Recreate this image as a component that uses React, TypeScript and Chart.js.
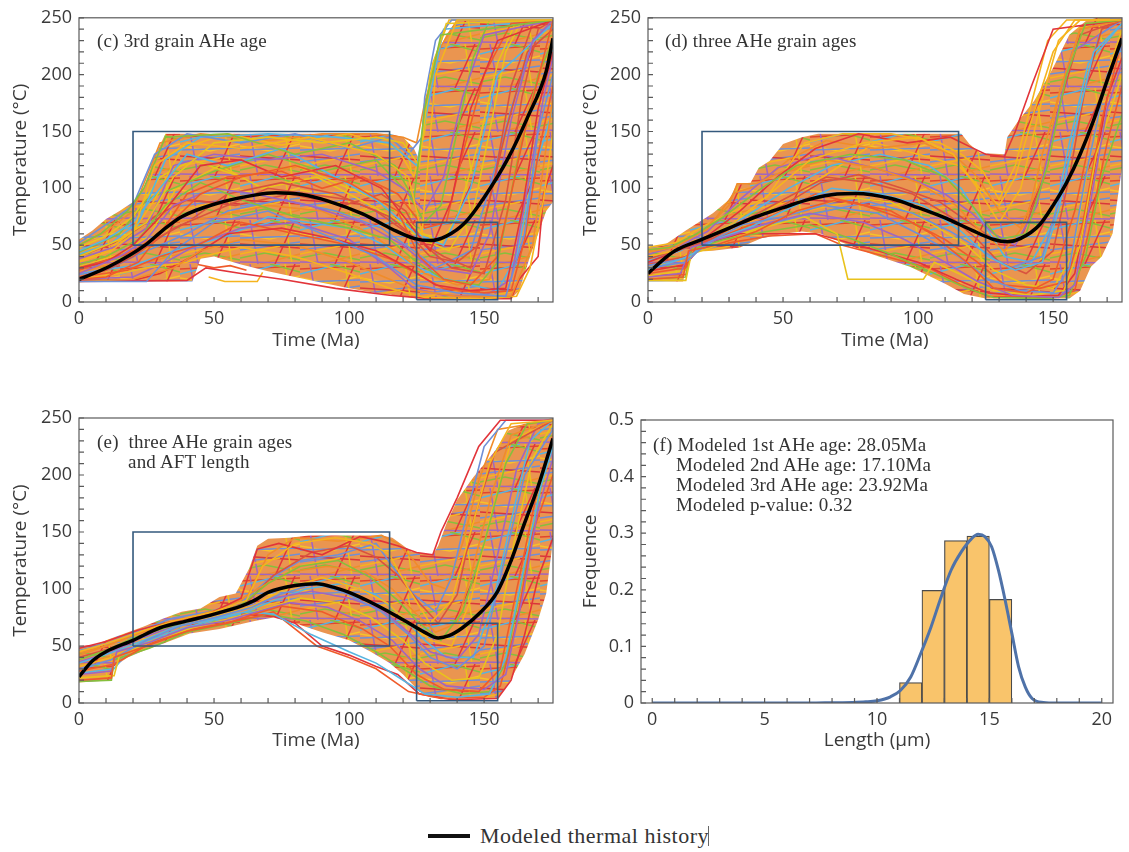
import React, { useEffect, useRef } from "react";
import { Chart, registerables } from "chart.js";
Chart.register(...registerables);

type Pt = [number, number];

// ---------------- shared constraint boxes ----------------
const BOX_A_TIME = [20, 115];
const BOX_A_TEMP = [50, 150];
const BOX_B_TIME = [125, 155];
const BOX_B_TEMP = [2, 70];

const TIME_MAX = 175.5;
const TEMP_MAX = 250;

// ---------------- panel (c) ----------------
const C_MODEL: Pt[] = [[0, 20], [11, 31], [24.5, 50], [31, 63], [38, 75], [50, 86], [65, 94], [73, 96], [82.5, 94.5], [92, 89], [105, 77.5], [116, 64], [124, 56], [130, 54], [136, 58], [143, 70], [150, 92], [159, 127], [166, 162], [173, 203], [175.5, 232]];
const C_UPPER: Pt[] = [[0, 55], [5, 63], [10, 73], [15, 80], [20, 88], [24, 100], [28, 128], [32, 148], [115, 148], [120, 145], [124, 135], [126, 125], [127, 150], [128, 175], [132, 215], [136, 235], [140, 248], [175.5, 248]];
const C_LOWER: Pt[] = [[0, 18], [42, 18], [45, 38], [50, 40], [60, 33], [70, 27], [80, 22], [90, 17], [100, 12], [110, 8], [120, 5], [125, 3], [160, 3], [163, 10], [167, 40], [170, 60], [173, 80], [175.5, 88]];
const C_PATHS: Pt[][] = [
  [[0, 20], [10, 22], [22, 35], [30, 60], [45, 95], [60, 110], [80, 120], [100, 105], [118, 80], [126, 40], [135, 20], [145, 15], [155, 40], [165, 150], [175.5, 248]],
  [[0, 35], [12, 45], [20, 60], [28, 120], [40, 140], [60, 135], [85, 145], [110, 130], [122, 110], [127, 60], [132, 200], [140, 248], [175.5, 248]],
  [[0, 18], [25, 18], [35, 45], [50, 70], [70, 80], [90, 60], [110, 40], [125, 15], [140, 8], [158, 5], [165, 60], [170, 150], [175.5, 200]],
  [[0, 50], [8, 60], [18, 80], [24, 100], [32, 145], [55, 148], [80, 130], [100, 140], [117, 120], [124, 90], [128, 170], [134, 235], [175.5, 248]],
  [[0, 25], [15, 40], [25, 55], [35, 85], [50, 100], [65, 95], [85, 85], [105, 70], [120, 50], [130, 30], [145, 25], [152, 60], [160, 160], [168, 230], [175.5, 248]],
  [[0, 30], [10, 35], [20, 50], [30, 75], [45, 120], [60, 125], [75, 110], [95, 120], [112, 100], [122, 70], [130, 45], [138, 90], [145, 170], [155, 230], [175.5, 248]],
  [[0, 45], [10, 55], [20, 70], [30, 100], [40, 130], [55, 120], [75, 135], [95, 110], [110, 90], [125, 60], [135, 50], [145, 100], [155, 200], [175.5, 245]],
  [[0, 18], [20, 20], [35, 30], [45, 45], [60, 55], [80, 50], [100, 35], [115, 20], [125, 10], [140, 5], [160, 5], [168, 50], [172, 120], [175.5, 180]],
  [[0, 40], [15, 55], [25, 70], [35, 110], [50, 140], [70, 145], [90, 140], [110, 145], [120, 140], [126, 120], [130, 200], [136, 245], [175.5, 248]],
  [[0, 22], [10, 28], [20, 40], [35, 65], [50, 80], [70, 100], [85, 95], [100, 90], [115, 75], [125, 55], [135, 40], [145, 30], [150, 70], [158, 150], [166, 220], [175.5, 240]],
  [[0, 28], [20, 45], [30, 60], [40, 95], [55, 110], [75, 115], [90, 100], [105, 110], [118, 95], [128, 65], [136, 70], [142, 130], [150, 200], [160, 245], [175.5, 248]],
  [[0, 20], [15, 25], [25, 30], [40, 35], [46, 40], [60, 48], [80, 40], [100, 25], [115, 12], [128, 4], [150, 3], [162, 5], [167, 30], [172, 90], [175.5, 150]],
  [[0, 52], [10, 68], [20, 85], [28, 130], [40, 148], [60, 140], [80, 148], [100, 135], [115, 145], [122, 130], [127, 145], [128, 180], [132, 230], [138, 248], [175.5, 248]],
  [[0, 33], [10, 40], [22, 55], [32, 85], [45, 105], [60, 90], [80, 75], [100, 65], [115, 55], [125, 35], [135, 20], [148, 15], [155, 35], [162, 120], [170, 200], [175.5, 230]],
  [[0, 38], [15, 50], [25, 65], [35, 120], [50, 130], [70, 125], [90, 130], [110, 115], [120, 100], [128, 80], [135, 110], [142, 180], [150, 235], [175.5, 248]],
  [[0, 19], [20, 19], [30, 25], [42, 40], [55, 60], [75, 65], [95, 55], [110, 45], [122, 30], [132, 15], [145, 10], [158, 12], [164, 80], [170, 170], [175.5, 220]],
  [[0, 42], [12, 52], [22, 70], [32, 125], [45, 145], [70, 148], [95, 145], [115, 140], [125, 120], [129, 170], [135, 240], [175.5, 248]],
  [[0, 26], [14, 35], [24, 50], [34, 70], [50, 75], [70, 85], [90, 80], [108, 60], [120, 40], [128, 25], [140, 15], [152, 20], [158, 70], [165, 160], [175.5, 235]],
  [[0, 48], [10, 58], [20, 75], [30, 110], [42, 125], [60, 110], [80, 120], [100, 100], [115, 85], [126, 62], [134, 52], [140, 75], [148, 140], [155, 210], [162, 248], [175.5, 248]],
  [[0, 30], [18, 42], [28, 55], [40, 70], [55, 95], [75, 105], [95, 95], [110, 80], [122, 60], [130, 40], [140, 35], [148, 50], [154, 110], [160, 190], [168, 245], [175.5, 248]],
  [[0, 22], [18, 28], [30, 40], [44, 50], [60, 70], [80, 60], [100, 50], [115, 38], [125, 25], [135, 12], [150, 8], [160, 10], [165, 55], [170, 130], [175.5, 190]],
  [[0, 36], [10, 45], [20, 62], [28, 90], [38, 135], [55, 148], [75, 138], [100, 148], [118, 135], [124, 110], [128, 150], [131, 210], [137, 248], [175.5, 248]],
  [[0, 24], [12, 30], [22, 42], [30, 50], [40, 60], [55, 80], [75, 90], [95, 80], [112, 65], [124, 45], [132, 30], [145, 45], [152, 100], [160, 170], [168, 230], [175.5, 245]],
  [[0, 44], [15, 60], [25, 90], [35, 100], [50, 115], [70, 130], [90, 115], [110, 125], [122, 95], [128, 70], [134, 85], [140, 150], [146, 215], [152, 248], [175.5, 248]],
  [[0, 20], [20, 22], [32, 35], [45, 52], [60, 65], [80, 70], [100, 55], [115, 30], [124, 12], [135, 6], [150, 5], [160, 20], [166, 100], [172, 180], [175.5, 215]],
  [[0, 18], [40, 19], [47, 30], [60, 25], [75, 20], [95, 12], [115, 6], [130, 3], [160, 3], [163, 20], [170, 40], [172, 95], [175.5, 120]],
  [[0, 25], [20, 32], [35, 45], [55, 58], [70, 75], [85, 70], [100, 65], [113, 50], [122, 35], [133, 22], [145, 15], [155, 10], [162, 40], [168, 110], [175.5, 170]],
  [[0, 50], [10, 62], [20, 80], [30, 140], [45, 148], [70, 142], [90, 148], [110, 148], [120, 145], [125, 140], [128, 175], [134, 225], [140, 248], [175.5, 248]],
  [[0, 31], [15, 42], [26, 58], [36, 100], [52, 120], [68, 100], [88, 110], [104, 90], [118, 72], [127, 55], [137, 45], [146, 80], [152, 150], [158, 220], [164, 248], [175.5, 248]],
  [[0, 40], [16, 55], [28, 75], [40, 90], [58, 85], [78, 95], [98, 85], [112, 95], [121, 80], [128, 50], [138, 30], [150, 25], [158, 90], [164, 180], [170, 240], [175.5, 248]],
  [[44, 33], [50, 30], [56, 32], [62, 28]],
  [[48, 22], [54, 18], [66, 18], [68, 26]],
];

// ---------------- panel (d) ----------------
const D_MODEL: Pt[] = [[0, 25], [5, 36], [10, 45], [20, 55], [30, 65], [40, 75], [50, 83], [60, 90.5], [70, 95], [77, 95.5], [90, 91], [100, 83], [110, 74], [120, 63], [128, 55], [133, 53], [138, 56], [145, 68], [150, 85], [155, 105], [160, 130], [165, 160], [170, 195], [175.5, 232]];
const D_UPPER: Pt[] = [[0, 48], [6, 50], [14, 63], [24, 78], [30, 90], [33, 104], [38, 105], [41, 118], [45, 124], [50, 139], [57, 145], [63, 148], [116, 148], [119, 139], [123, 131], [132, 130], [133, 145], [137, 159], [143, 177], [150, 206], [156, 235], [162, 247], [166, 250], [175.5, 250]];
const D_LOWER: Pt[] = [[0, 18], [13, 18], [14.5, 34], [16, 44], [24, 45], [34, 48], [42, 56], [50, 60], [57, 62], [64, 60], [70, 54], [83, 42], [97, 31], [110, 16], [117, 7], [125, 3], [156, 3], [160, 10], [164, 31], [168, 40], [172, 60], [175.5, 118]];
const D_PATHS: Pt[][] = [
  [[0, 20], [13, 22], [15, 45], [25, 50], [40, 62], [55, 80], [70, 90], [90, 80], [105, 60], [118, 35], [128, 12], [140, 8], [150, 20], [158, 80], [166, 170], [175.5, 235]],
  [[0, 40], [10, 45], [20, 55], [32, 70], [45, 95], [60, 125], [80, 140], [100, 145], [113, 130], [122, 100], [130, 70], [138, 100], [145, 170], [152, 230], [160, 248], [175.5, 248]],
  [[0, 30], [14, 35], [22, 52], [35, 68], [50, 75], [65, 85], [85, 78], [100, 60], [115, 40], [126, 20], [138, 10], [150, 8], [156, 30], [162, 110], [170, 200], [175.5, 225]],
  [[0, 46], [8, 48], [18, 60], [28, 75], [42, 100], [55, 120], [75, 130], [95, 125], [110, 110], [120, 85], [130, 55], [140, 60], [148, 120], [155, 200], [162, 245], [175.5, 248]],
  [[0, 22], [12, 25], [16, 48], [30, 58], [45, 70], [60, 78], [80, 70], [95, 55], [110, 35], [122, 18], [135, 6], [152, 4], [158, 15], [164, 90], [170, 170], [175.5, 210]],
  [[0, 35], [10, 44], [22, 58], [34, 80], [48, 110], [62, 135], [78, 148], [96, 140], [112, 145], [118, 138], [125, 130], [132, 128], [136, 150], [142, 190], [150, 240], [175.5, 248]],
  [[0, 28], [15, 40], [25, 55], [38, 66], [52, 82], [68, 100], [86, 95], [102, 85], [116, 62], [126, 40], [136, 28], [146, 35], [152, 80], [158, 150], [165, 220], [175.5, 245]],
  [[0, 44], [10, 48], [20, 62], [30, 85], [33, 104], [40, 104], [50, 115], [66, 125], [84, 118], [100, 105], [114, 85], [124, 60], [132, 45], [140, 70], [146, 130], [153, 190], [160, 240], [175.5, 248]],
  [[0, 19], [14, 19], [16, 42], [28, 52], [42, 65], [58, 75], [70, 60], [74, 20], [102, 20], [106, 35], [115, 25], [128, 10], [142, 6], [154, 10], [160, 50], [166, 130], [175.5, 200]],
  [[0, 38], [12, 46], [24, 56], [36, 72], [50, 90], [66, 110], [82, 105], [98, 95], [112, 75], [122, 55], [130, 35], [140, 25], [150, 45], [156, 110], [162, 190], [168, 240], [175.5, 248]],
  [[0, 25], [14, 30], [18, 50], [32, 62], [46, 76], [62, 95], [80, 85], [96, 72], [110, 55], [122, 35], [132, 15], [145, 12], [155, 18], [161, 70], [168, 160], [175.5, 230]],
  [[0, 48], [10, 52], [20, 66], [30, 78], [44, 92], [58, 140], [72, 148], [90, 148], [108, 140], [116, 130], [124, 115], [130, 90], [136, 120], [142, 175], [148, 230], [155, 248], [175.5, 248]],
  [[0, 32], [13, 38], [24, 54], [36, 64], [50, 72], [66, 80], [82, 88], [98, 78], [112, 62], [124, 45], [134, 30], [146, 40], [153, 95], [160, 170], [167, 235], [175.5, 248]],
  [[0, 20], [14, 22], [16, 46], [28, 55], [44, 62], [60, 68], [76, 55], [92, 40], [106, 25], [118, 12], [128, 4], [148, 3], [156, 6], [162, 40], [168, 110], [175.5, 165]],
  [[0, 42], [12, 50], [22, 62], [34, 90], [48, 118], [64, 130], [80, 120], [96, 110], [110, 95], [120, 78], [128, 60], [136, 50], [144, 85], [150, 150], [157, 220], [175.5, 248]],
  [[0, 27], [14, 33], [20, 50], [34, 60], [45, 60], [62, 60], [70, 55], [85, 45], [100, 35], [114, 20], [126, 8], [140, 5], [152, 6], [158, 25], [164, 100], [170, 180], [175.5, 215]],
  [[0, 36], [12, 45], [24, 60], [36, 75], [52, 100], [68, 120], [86, 130], [104, 120], [116, 100], [124, 70], [132, 40], [142, 35], [150, 70], [156, 140], [163, 210], [175.5, 245]],
  [[0, 45], [10, 50], [22, 64], [32, 96], [40, 102], [52, 125], [66, 142], [84, 135], [102, 140], [114, 128], [122, 110], [130, 80], [138, 65], [146, 110], [152, 180], [160, 240], [175.5, 248]],
  [[0, 23], [14, 28], [17, 47], [30, 56], [44, 68], [58, 82], [74, 92], [90, 88], [104, 70], [118, 50], [128, 28], [140, 15], [150, 12], [157, 40], [163, 120], [170, 200], [175.5, 240]],
  [[0, 33], [14, 40], [24, 58], [36, 70], [50, 85], [64, 105], [78, 112], [94, 100], [108, 88], [120, 68], [130, 52], [138, 55], [145, 100], [152, 170], [160, 235], [175.5, 248]],
  [[0, 24], [14, 24], [16, 46], [30, 52], [45, 58], [62, 60], [72, 50], [88, 40], [104, 30], [116, 15], [126, 5], [150, 4], [158, 10], [163, 60], [170, 140], [175.5, 190]],
  [[0, 30], [12, 38], [22, 56], [36, 68], [52, 92], [68, 115], [84, 140], [100, 130], [115, 120], [123, 100], [130, 85], [136, 110], [142, 160], [150, 220], [158, 248], [175.5, 248]],
];

// ---------------- panel (e) ----------------
const E_MODEL: Pt[] = [[0, 23], [5, 37], [10, 45], [20, 55], [30, 66], [40, 72], [50, 78], [60, 85], [65, 90], [70, 97], [80, 103], [88, 104.5], [95, 101], [100, 97], [110, 86], [120, 73], [128, 62], [133, 57], [137, 59], [142, 66], [148, 78], [155, 98], [160, 125], [165, 158], [170, 190], [175.5, 232]];
const E_UPPER: Pt[] = [[0, 50], [6, 51], [11, 56], [24, 67], [31, 74], [38, 80], [45, 83], [52, 93], [58, 96], [63, 118], [66, 138], [70, 144], [78, 145], [85, 147], [112, 147], [116, 145], [119, 140], [123, 133], [131, 130], [133, 138], [136, 157], [140, 178], [146, 198], [154, 221], [159, 239], [165, 245], [175.5, 250]];
const E_LOWER: Pt[] = [[0, 18], [12, 20], [13, 32], [18, 40], [25, 47], [31, 52], [41, 61], [52, 65], [65, 72], [72, 75], [80, 70], [90, 62], [100, 55], [108, 45], [115, 35], [120, 25], [126, 10], [130, 5], [155, 4], [159, 17], [165, 43], [170, 73], [173, 96], [175.5, 143]];
const E_PATHS: Pt[][] = [
  [[0, 20], [12, 22], [13, 40], [25, 50], [40, 63], [55, 70], [65, 78], [75, 85], [90, 80], [105, 65], [115, 50], [125, 25], [135, 12], [148, 10], [156, 30], [163, 110], [170, 190], [175.5, 235]],
  [[0, 45], [10, 52], [22, 62], [35, 72], [50, 80], [62, 90], [68, 120], [80, 140], [95, 145], [108, 140], [115, 130], [122, 100], [130, 70], [138, 90], [145, 150], [152, 210], [160, 245], [175.5, 248]],
  [[0, 30], [12, 38], [25, 55], [38, 68], [52, 76], [64, 84], [74, 95], [88, 105], [100, 95], [112, 80], [122, 60], [130, 40], [140, 30], [150, 50], [157, 120], [165, 200], [175.5, 240]],
  [[0, 38], [10, 46], [20, 57], [32, 66], [46, 75], [60, 86], [70, 105], [82, 120], [96, 125], [108, 110], [118, 90], [126, 70], [134, 55], [142, 80], [150, 140], [158, 210], [166, 245], [175.5, 248]],
  [[0, 25], [12, 28], [14, 45], [26, 53], [40, 66], [54, 72], [66, 80], [78, 88], [92, 84], [104, 72], [116, 55], [126, 30], [136, 15], [150, 12], [158, 25], [164, 90], [170, 170], [175.5, 215]],
  [[0, 48], [10, 54], [22, 64], [34, 71], [48, 78], [60, 92], [66, 135], [74, 140], [90, 130], [104, 146], [112, 142], [118, 138], [125, 132], [131, 130], [134, 150], [140, 180], [148, 225], [156, 248], [175.5, 248]],
  [[0, 35], [12, 44], [24, 55], [36, 67], [50, 74], [62, 80], [72, 78], [86, 60], [100, 45], [110, 35], [120, 20], [128, 8], [140, 5], [152, 8], [158, 40], [164, 110], [171, 190], [175.5, 225]],
  [[0, 42], [10, 50], [20, 60], [32, 70], [44, 77], [56, 85], [66, 100], [78, 115], [92, 120], [106, 115], [116, 100], [124, 80], [132, 62], [140, 70], [146, 120], [153, 185], [160, 235], [175.5, 248]],
  [[0, 22], [13, 24], [15, 42], [28, 55], [42, 66], [56, 74], [68, 82], [82, 92], [96, 88], [108, 75], [120, 55], [128, 35], [138, 20], [148, 22], [155, 60], [161, 140], [168, 215], [175.5, 245]],
  [[0, 40], [12, 48], [24, 60], [36, 70], [50, 78], [62, 88], [72, 112], [86, 132], [100, 138], [110, 128], [118, 112], [126, 88], [133, 70], [140, 95], [146, 160], [154, 220], [175.5, 248]],
  [[0, 28], [13, 34], [26, 52], [40, 64], [54, 70], [66, 76], [72, 80], [88, 50], [100, 40], [110, 30], [122, 10], [134, 4], [150, 5], [156, 15], [162, 70], [168, 150], [175.5, 200]],
  [[0, 32], [12, 40], [24, 56], [38, 68], [52, 77], [64, 85], [76, 100], [90, 110], [104, 100], [114, 88], [122, 70], [130, 55], [138, 50], [145, 90], [152, 160], [160, 230], [175.5, 248]],
  [[0, 46], [10, 52], [22, 63], [34, 74], [48, 80], [60, 88], [70, 108], [82, 125], [96, 130], [110, 140], [116, 120], [124, 95], [132, 80], [138, 110], [144, 170], [150, 225], [158, 248], [175.5, 248]],
  [[0, 19], [12, 20], [13, 38], [26, 48], [40, 62], [56, 70], [70, 78], [84, 72], [98, 60], [110, 45], [120, 30], [130, 15], [142, 8], [152, 10], [158, 35], [165, 120], [172, 200], [175.5, 230]],
  [[0, 36], [12, 45], [24, 58], [36, 68], [50, 76], [62, 84], [72, 92], [86, 98], [100, 92], [112, 82], [122, 62], [130, 45], [140, 38], [148, 60], [155, 130], [162, 205], [170, 245], [175.5, 248]],
  [[60, 78], [72, 76], [80, 70], [90, 50], [100, 42], [110, 32], [118, 25], [126, 8], [138, 3], [155, 4], [160, 20], [165, 60], [170, 110], [175.5, 145]],
  [[0, 26], [13, 30], [20, 50], [34, 62], [48, 72], [60, 78], [70, 88], [84, 100], [98, 105], [110, 95], [120, 75], [128, 55], [136, 40], [146, 40], [153, 85], [160, 160], [167, 230], [175.5, 248]],
  [[0, 44], [10, 50], [22, 61], [34, 70], [48, 79], [62, 92], [70, 130], [80, 145], [96, 142], [112, 147], [118, 140], [124, 125], [130, 105], [136, 100], [142, 140], [148, 195], [155, 240], [175.5, 248]],
];

// ---------------- panel (f) ----------------
const BIN_CENTERS = [11.5, 12.5, 13.5, 14.5, 15.5];
const BIN_FREQ = [0.036, 0.199, 0.287, 0.295, 0.183];
const FIT_LENGTH = [0, 7, 8, 8.9, 9.5, 10, 10.6, 11.04, 11.5, 11.94, 12.4, 12.85, 13.3, 13.75, 14.2, 14.5, 14.8, 15.1, 15.4, 15.7, 16.0, 16.3, 16.6, 16.9, 17.4, 18, 20];
const FIT_FREQ = [0, 0, 0.0005, 0.001, 0.002, 0.004, 0.011, 0.022, 0.046, 0.087, 0.134, 0.187, 0.235, 0.267, 0.29, 0.298, 0.294, 0.276, 0.235, 0.182, 0.123, 0.064, 0.028, 0.008, 0.001, 0, 0];

// ---------------- styles ----------------
const PATH_COLORS = ["#ef5b2b", "#f5b41e", "#6f8fd6", "#86bf3c", "#a066c0", "#e2343a", "#58b4e0", "#f08c2a", "#e9c21c", "#d9533f"];
const BOX_COLOR = "#34597d";
const AXIS_COLOR = "#5a5a5a";
const TICK_FONT = { family: "'Open Sans', sans-serif", size: 18 };
const TITLE_FONT = { family: "'Open Sans', sans-serif", size: 19 };
const TEXT_COLOR = "#3a3a3a";

// texture strokes for the dense region: [colour, x1, y1, x2, y2] inside a 60x44 tile
const TEXTURE_STROKES: [string, number, number, number, number][] = [
  ["#e2452f", 0, 5, 60, 2],
  ["#f6c22a", 0, 14, 30, 19],
  ["#f6c22a", 30, 19, 60, 12],
  ["#6f8fd6", 0, 30, 60, 22],
  ["#86bf3c", 0, 38, 25, 33],
  ["#86bf3c", 25, 33, 60, 40],
  ["#a066c0", 10, 0, 18, 44],
  ["#d9363b", 0, 24, 60, 28],
  ["#58b4e0", 0, 10, 40, 0],
  ["#f08c2a", 20, 44, 60, 34],
  ["#e9c21c", 45, 0, 52, 44],
  ["#a066c0", 0, 42, 60, 43],
  ["#86bf3c", 30, 0, 60, 8],
  ["#6f8fd6", 0, 18, 60, 16],
  ["#e2343a", 35, 44, 55, 0],
  ["#f5b41e", 0, 34, 40, 26],
];

function makeMassPattern(): CanvasPattern | string {
  const c = document.createElement("canvas");
  c.width = 60;
  c.height = 44;
  const g = c.getContext("2d");
  if (!g) return "rgba(232,146,78,0.7)";
  g.fillStyle = "#ea9550";
  g.fillRect(0, 0, 60, 44);
  g.lineWidth = 1.5;
  for (const [col, x1, y1, x2, y2] of TEXTURE_STROKES) {
    g.strokeStyle = col;
    g.beginPath();
    g.moveTo(x1, y1);
    g.lineTo(x2, y2);
    g.stroke();
  }
  const p = g.createPattern(c, "repeat");
  return p || "rgba(232,146,78,0.7)";
}

const toXY = (pts: Pt[]) => pts.map(([x, y]) => ({ x, y }));
const boxPts = (t: number[], T: number[]): Pt[] => [[t[0], T[0]], [t[0], T[1]], [t[1], T[1]], [t[1], T[0]], [t[0], T[0]]];

const frameTicks = {
  id: "frameTicks",
  afterDatasetsDraw(chart: any) {
    const { ctx, chartArea: a, scales } = chart;
    ctx.save();
    ctx.strokeStyle = AXIS_COLOR;
    ctx.lineWidth = 1.2;
    ctx.strokeRect(a.left, a.top, a.right - a.left, a.bottom - a.top);
    ctx.beginPath();
    for (const t of scales.x.ticks) {
      const px = scales.x.getPixelForValue(t.value);
      ctx.moveTo(px, a.bottom);
      ctx.lineTo(px, a.bottom - 5);
    }
    for (const t of scales.y.ticks) {
      const py = scales.y.getPixelForValue(t.value);
      ctx.moveTo(a.left, py);
      ctx.lineTo(a.left + 5, py);
    }
    ctx.stroke();
    ctx.restore();
  },
};

type Layout = { padTop: number; padRight: number; yW: number; xH: number; xTitlePad: number; yTitlePad: number };

function baseScales(L: Layout, x: any, y: any) {
  return {
    x: {
      type: "linear",
      min: x.min,
      max: x.max,
      grid: { display: false, drawTicks: false },
      border: { display: false },
      ticks: { stepSize: x.step, includeBounds: false, autoSkip: false, maxRotation: 0, padding: 6, color: TEXT_COLOR, font: TICK_FONT, callback: x.label },
      title: { display: true, text: x.title, color: TEXT_COLOR, font: TITLE_FONT, padding: { top: 0, bottom: L.xTitlePad } },
      afterFit: (s: any) => { s.height = L.xH; },
    },
    y: {
      type: "linear",
      min: y.min,
      max: y.max,
      grid: { display: false, drawTicks: false },
      border: { display: false },
      ticks: { stepSize: y.step, includeBounds: false, autoSkip: false, padding: 7, color: TEXT_COLOR, font: TICK_FONT, callback: y.label },
      title: { display: true, text: y.title, color: TEXT_COLOR, font: TITLE_FONT, padding: { top: L.yTitlePad, bottom: 0 } },
      afterFit: (s: any) => { s.width = L.yW; },
    },
  };
}

const every50 = (v: number) => (Math.round(v) % 50 === 0 ? String(Math.round(v)) : "");

function thermalConfig(model: Pt[], upper: Pt[], lower: Pt[], paths: Pt[][], L: Layout) {
  const datasets: any[] = [];
  datasets.push({ data: toXY(model), borderColor: "#000", borderWidth: 3.5, cubicInterpolationMode: "monotone", order: 0 });
  datasets.push({ data: toXY(boxPts(BOX_A_TIME, BOX_A_TEMP)), borderColor: BOX_COLOR, borderWidth: 1.6, order: 1 });
  datasets.push({ data: toXY(boxPts(BOX_B_TIME, BOX_B_TEMP)), borderColor: BOX_COLOR, borderWidth: 1.6, order: 1 });
  paths.forEach((p, i) => {
    datasets.push({ data: toXY(p), borderColor: PATH_COLORS[i % PATH_COLORS.length], borderWidth: 1.6, order: 2 });
  });
  datasets.push({
    data: toXY([...upper, ...lower.slice().reverse()]),
    borderWidth: 0,
    borderColor: "rgba(0,0,0,0)",
    backgroundColor: makeMassPattern(),
    fill: "shape",
    order: 3,
  });
  return {
    type: "line",
    data: { datasets },
    options: {
      responsive: false,
      animation: false,
      devicePixelRatio: 1,
      events: [],
      elements: { point: { radius: 0 }, line: { tension: 0 } },
      layout: { padding: { top: L.padTop, right: L.padRight, left: 0, bottom: 0 } },
      plugins: { legend: { display: false }, tooltip: { enabled: false } },
      scales: baseScales(
        L,
        { min: 0, max: TIME_MAX, step: 10, label: every50, title: "Time (Ma)" },
        { min: 0, max: TEMP_MAX, step: 10, label: every50, title: "Temperature (°C)" }
      ),
    },
    plugins: [frameTicks],
  };
}

function histConfig(L: Layout) {
  return {
    type: "bar",
    data: {
      datasets: [
        {
          type: "line",
          data: FIT_LENGTH.map((x, i) => ({ x, y: FIT_FREQ[i] })),
          borderColor: "#4f72a8",
          borderWidth: 3,
          cubicInterpolationMode: "monotone",
          pointRadius: 0,
          order: 0,
        },
        {
          type: "bar",
          data: BIN_CENTERS.map((x, i) => ({ x, y: BIN_FREQ[i] })),
          backgroundColor: "#f9c46b",
          borderColor: "#4a4a4a",
          borderWidth: 1.2,
          barPercentage: 1,
          categoryPercentage: 1,
          order: 1,
        },
      ],
    },
    options: {
      responsive: false,
      animation: false,
      devicePixelRatio: 1,
      events: [],
      layout: { padding: { top: L.padTop, right: L.padRight, left: 0, bottom: 0 } },
      plugins: { legend: { display: false }, tooltip: { enabled: false } },
      scales: baseScales(
        L,
        { min: 0, max: 20, step: 1, label: (v: number) => (Math.round(v) % 5 === 0 ? String(Math.round(v)) : ""), title: "Length (μm)" },
        {
          min: 0,
          max: 0.5,
          step: 0.02,
          label: (v: number) => {
            const r = Math.round(v * 10);
            if (Math.abs(v * 10 - r) > 1e-6) return "";
            return r === 0 ? "0" : (r / 10).toFixed(1);
          },
          title: "Frequence",
        }
      ),
    },
    plugins: [frameTicks],
  };
}

function ChartCanvas({ left, top, width, height, make }: { left: number; top: number; width: number; height: number; make: () => any }) {
  const ref = useRef<HTMLCanvasElement | null>(null);
  useEffect(() => {
    const chart = new Chart(ref.current as HTMLCanvasElement, make());
    return () => chart.destroy();
  }, []);
  return <canvas ref={ref} width={width} height={height} style={{ position: "absolute", left, top, width, height }} />;
}

const serif: React.CSSProperties = {
  position: "absolute",
  fontFamily: "'Liberation Serif', 'Times New Roman', serif",
  fontSize: 19,
  letterSpacing: "0.2px",
  lineHeight: "20px",
  color: "#333",
  whiteSpace: "pre",
};

export default function App() {
  const LC: Layout = { padTop: 17, padRight: 17, yW: 79, xH: 58, xTitlePad: 8, yTitlePad: 9 };
  const LD: Layout = { padTop: 17, padRight: 7, yW: 78, xH: 58, xTitlePad: 8, yTitlePad: 9 };
  const LE: Layout = { padTop: 18, padRight: 17, yW: 79, xH: 57, xTitlePad: 8, yTitlePad: 9 };
  const LF: Layout = { padTop: 20, padRight: 16, yW: 71, xH: 57, xTitlePad: 8, yTitlePad: 9 };
  return (
    <div style={{ position: "absolute", left: 0, top: 0, width: 1129, height: 852, background: "#fff", overflow: "hidden" }}>
      <ChartCanvas left={0} top={0} width={570} height={360} make={() => thermalConfig(C_MODEL, C_UPPER, C_LOWER, C_PATHS, LC)} />
      <ChartCanvas left={570} top={0} width={559} height={360} make={() => thermalConfig(D_MODEL, D_UPPER, D_LOWER, D_PATHS, LD)} />
      <ChartCanvas left={0} top={400} width={570} height={360} make={() => thermalConfig(E_MODEL, E_UPPER, E_LOWER, E_PATHS, LE)} />
      <ChartCanvas left={570} top={400} width={559} height={360} make={() => histConfig(LF)} />

      <div style={{ ...serif, left: 97, top: 31 }}>(c) 3rd grain AHe age</div>
      <div style={{ ...serif, left: 665, top: 31 }}>(d) three AHe grain ages</div>
      <div style={{ ...serif, left: 97, top: 432 }}>(e)  three AHe grain ages</div>
      <div style={{ ...serif, left: 128, top: 452 }}>and AFT length</div>
      <div style={{ ...serif, left: 653, top: 435 }}>(f) Modeled 1st AHe age: 28.05Ma</div>
      <div style={{ ...serif, left: 676, top: 455 }}>Modeled 2nd AHe age: 17.10Ma</div>
      <div style={{ ...serif, left: 676, top: 475 }}>Modeled 3rd AHe age: 23.92Ma</div>
      <div style={{ ...serif, left: 676, top: 495 }}>Modeled p-value: 0.32</div>

      <div style={{ position: "absolute", left: 428, top: 834, width: 42, height: 4, background: "#111" }} />
      <div style={{ ...serif, left: 480, top: 825, fontSize: 22, letterSpacing: "0.5px", lineHeight: "22px" }}>Modeled thermal history</div>
      <div style={{ position: "absolute", left: 708, top: 826, width: 1, height: 20, background: "#666" }} />
    </div>
  );
}
